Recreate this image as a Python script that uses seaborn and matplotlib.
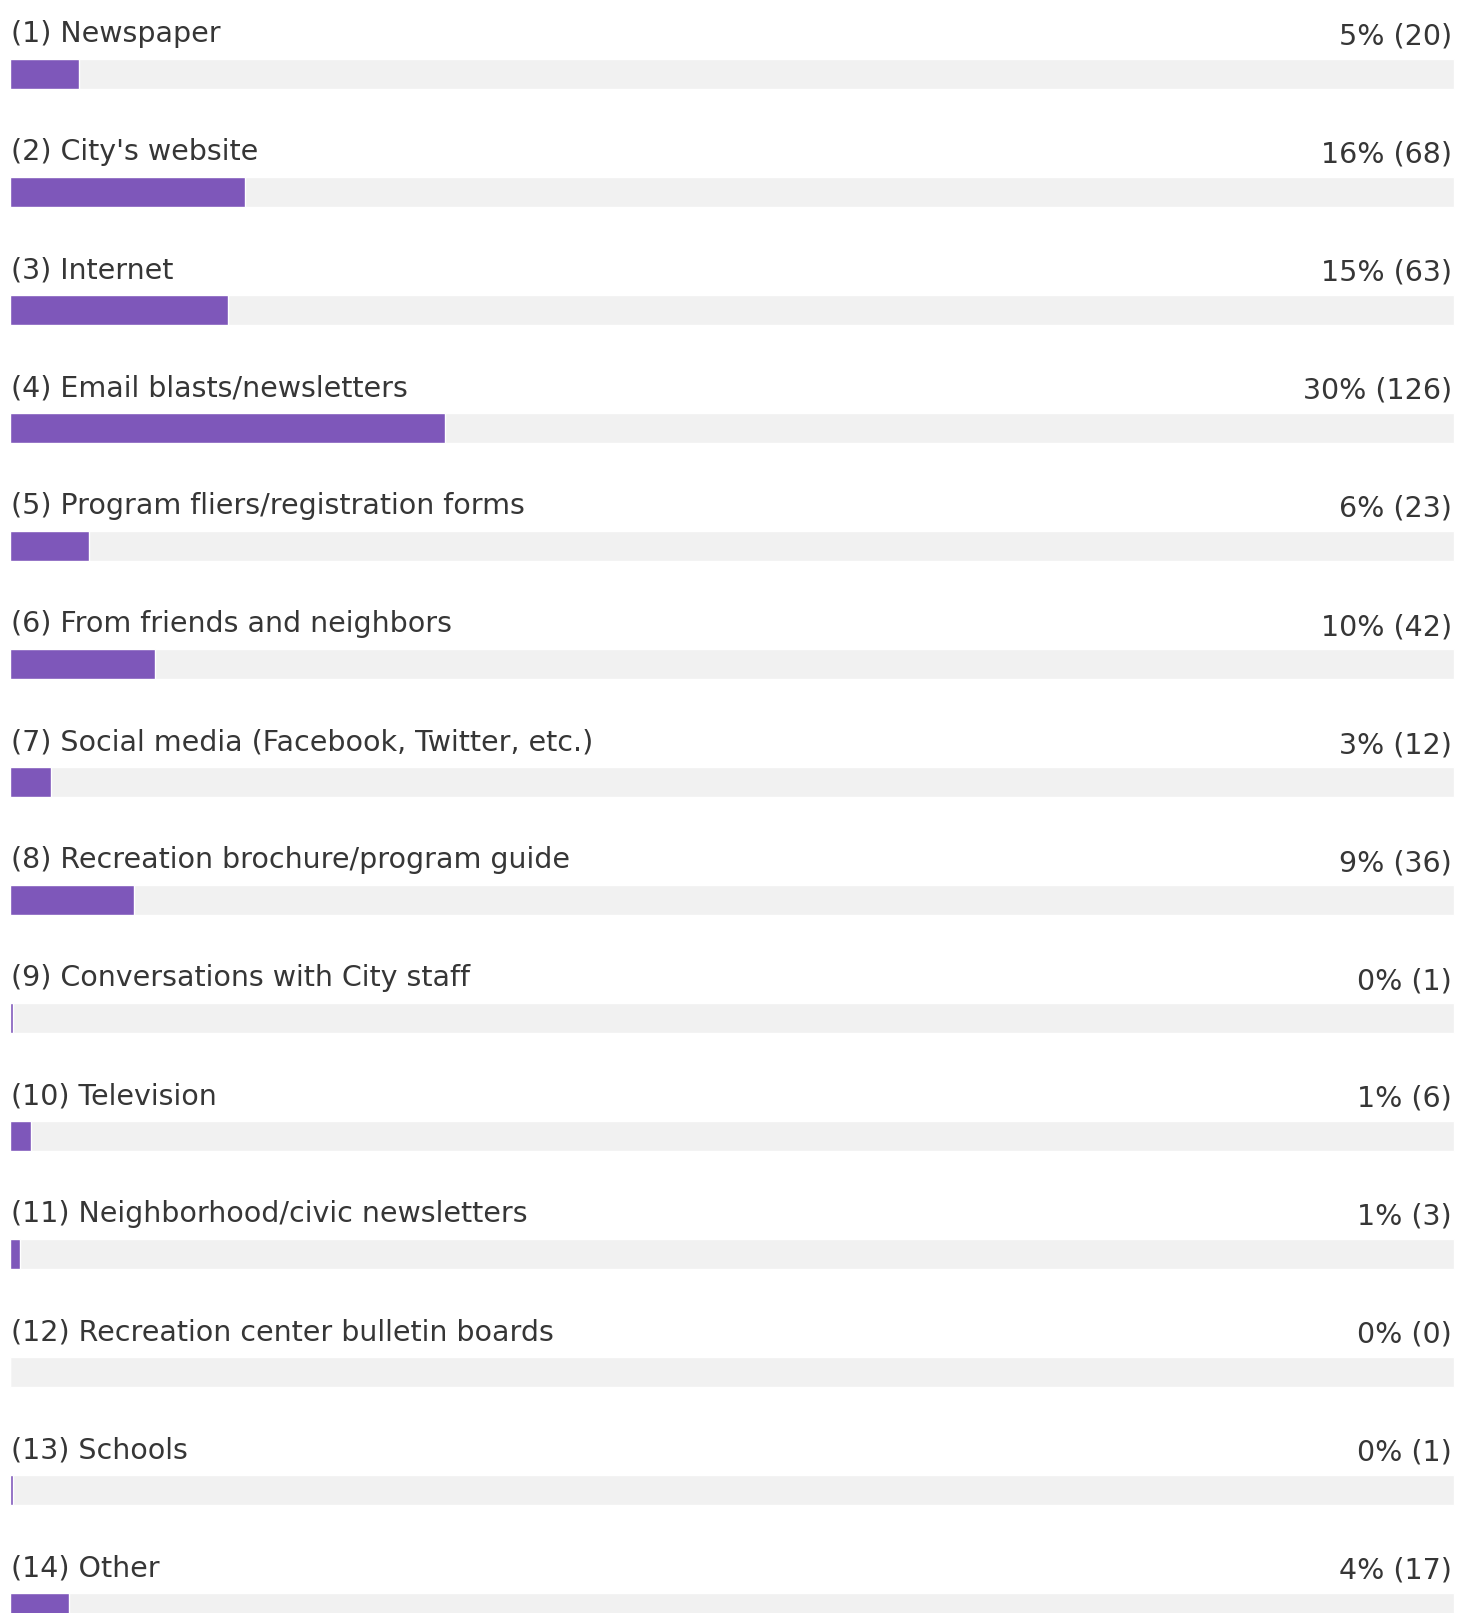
import matplotlib
matplotlib.use('Agg')
import matplotlib.pyplot as plt
import numpy as np
import pandas as pd
import seaborn as sns

labels = ['(1) Newspaper', "(2) City's website", '(3) Internet', '(4) Email blasts/newsletters',
          '(5) Program fliers/registration forms', '(6) From friends and neighbors',
          '(7) Social media (Facebook, Twitter, etc.)', '(8) Recreation brochure/program guide',
          '(9) Conversations with City staff', '(10) Television', '(11) Neighborhood/civic newsletters',
          '(12) Recreation center bulletin boards', '(13) Schools', '(14) Other']
counts = [20, 68, 63, 126, 23, 42, 12, 36, 1, 6, 3, 0, 1, 17]
percents = [5, 16, 15, 30, 6, 10, 3, 9, 0, 1, 1, 0, 0, 4]

total = sum(counts)
df = pd.DataFrame({'label': labels, 'count': counts, 'pct': percents})
df['track'] = total

sns.set_style('white')
plt.rcParams['font.family'] = ['DejaVu Sans']

fig = plt.figure(figsize=(14.61, 16.13), dpi=100)
ax = fig.add_axes([0, 0, 1, 1])

# grey track behind each bar, then the purple share
sns.barplot(data=df, y='label', x='track', color='#f1f1f1', width=0.254, orient='h', ax=ax, saturation=1)
sns.barplot(data=df, y='label', x='count', color='#7e57ba', width=0.254, orient='h', ax=ax, saturation=1)

px = 1 / 118.0
ax.set_ylim(-0.627 + 1613 * px, -0.627)
ax.set_xlim(-10 * total / 1444, total + 7 * total / 1444)

for i, row in df.iterrows():
    ax.text(-10 * total / 1444 + 11 * total / 1444, i - 0.127 - 17 * px, row['label'],
            fontsize=20.5, color='#363636', va='baseline', ha='left')
    ax.text(total - 2 * total / 1444, i - 0.127 - 14 * px, '%d%% (%d)' % (row['pct'], row['count']),
            fontsize=20.5, color='#363636', va='baseline', ha='right')

ax.axis('off')
plt.savefig('out.png', dpi=100)
